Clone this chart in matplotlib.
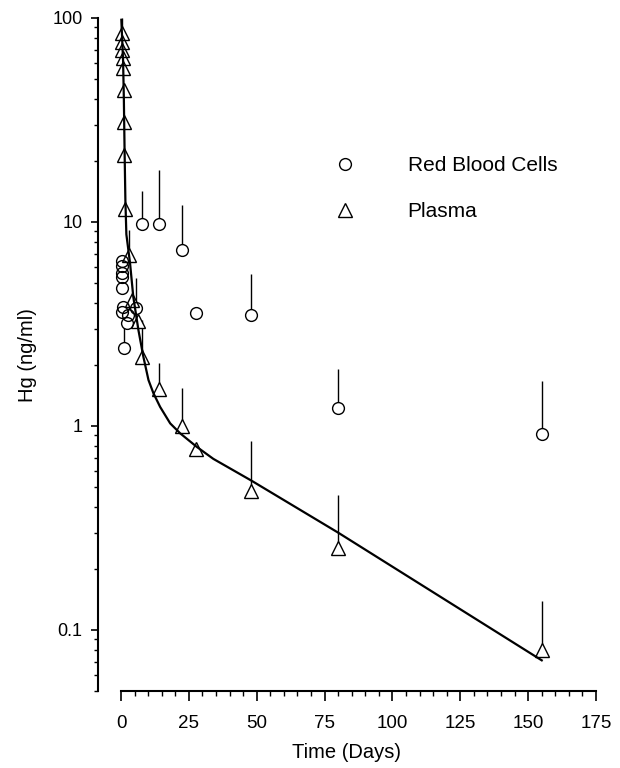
import matplotlib
matplotlib.use("Agg")
import matplotlib.pyplot as plt
from matplotlib.ticker import FixedLocator, LogLocator, NullFormatter

plt.rcParams['font.family'] = ['Liberation Sans', 'DejaVu Sans']

# ---------------- data ----------------
rbc_t = [0.5, 0.5, 0.5, 0.5, 0.5, 0.7, 0.25, 2.7, 2.1, 1.2, 5.4, 7.6, 14.0, 22.6, 27.6, 48.0, 80.0, 155.0]
rbc_v = [6.44, 6.08, 5.65, 5.37, 4.74, 3.83, 3.62, 3.5, 3.2, 2.41, 3.79, 9.78, 9.78, 7.29, 3.58, 3.5, 1.22, 0.91]

rbc_err_t = [1.2, 5.4, 7.6, 14.0, 22.6, 48.0, 80.0, 155.0]
rbc_err_lo = [2.41, 3.79, 9.78, 9.78, 7.29, 3.5, 1.22, 0.91]
rbc_err_hi = [3.05, 5.3, 14.2, 18.0, 12.1, 5.56, 1.9, 1.67]

pl_t = [0.3, 0.4, 0.5, 0.65, 0.75, 0.95, 1.1, 1.2, 1.5, 3.1, 3.9, 6.3, 7.6, 14.1, 22.4, 27.5, 48.0, 80.0, 155.0]
pl_v = [84.4, 76.3, 69.7, 63.6, 56.9, 44.4, 30.9, 21.3, 11.6, 6.88, 4.15, 3.27, 2.19, 1.51, 1.0, 0.77, 0.48, 0.252, 0.080]

pl_err_t = [0.3, 3.1, 7.6, 14.1, 22.4, 48.0, 80.0, 155.0]
pl_err_lo = [84.4, 6.88, 2.19, 1.51, 1.0, 0.48, 0.252, 0.080]
pl_err_hi = [100.0, 9.1, 3.3, 2.04, 1.53, 0.84, 0.46, 0.139]

fit_t = [0.1, 0.74, 1.03, 1.29, 1.59, 1.95, 3.3, 4.5, 6.4, 8.2, 10.1, 11.9, 14.4, 18.1, 21.8, 27.9, 34.0, 48.0, 80.0, 155.0]
fit_v = [98, 62, 40, 22.6, 12.8, 8.7, 6.3, 4.3, 2.95, 2.19, 1.68, 1.45, 1.24, 1.03, 0.92, 0.79, 0.69, 0.54, 0.30, 0.071]

x_ticks = [0, 25, 50, 75, 100, 125, 150, 175]
x_minor = [m for m in range(0, 176, 5) if m % 25]
y_ticks = [0.1, 1, 10, 100]
y_tick_labels = ["0.1", "1", "10", "100"]
labels = ["Red Blood Cells", "Plasma"]

# ---------------- figure ----------------
W, H = 620, 768
fig = plt.figure(figsize=(W / 100, H / 100), dpi=100)
left, right, top, bottom = 98, 596, 18, 691.4
ax = fig.add_axes([left / W, 1 - bottom / H, (right - left) / W, (bottom - top) / H])

ax.set_yscale('log')
ax.set_xlim(-8.5, 175)
ax.set_ylim(0.05, 100)

# error bars (upper only)
ax.vlines(rbc_err_t, rbc_err_lo, rbc_err_hi, colors='black', lw=1.0, zorder=2)
ax.vlines(pl_err_t, pl_err_lo, pl_err_hi, colors='black', lw=1.0, zorder=2)

# white fill under markers, hollow outlines on top
ax.plot(rbc_t, rbc_v, 'o', ms=8.5, mfc='white', mec='none', zorder=3)
ax.plot(pl_t, pl_v, '^', ms=9.5, mfc='white', mec='none', zorder=3)
h1, = ax.plot(rbc_t, rbc_v, 'o', ms=8.5, mfc='none', mec='black', mew=1.0, zorder=4)
h2, = ax.plot(pl_t, pl_v, '^', ms=9.5, mfc='none', mec='black', mew=1.0, zorder=4)

ax.plot(fit_t, fit_v, '-', color='black', lw=1.6, zorder=5)

# spines
for s in ['top', 'right']:
    ax.spines[s].set_visible(False)
ax.spines['left'].set_linewidth(1.5)
ax.spines['bottom'].set_linewidth(1.5)
ax.spines['bottom'].set_bounds(0, 175)

ax.set_xticks(x_ticks)
ax.set_xticklabels([str(v) for v in x_ticks])
ax.xaxis.set_minor_locator(FixedLocator(x_minor))
ax.set_yticks(y_ticks)
ax.set_yticklabels(y_tick_labels)
ax.yaxis.set_minor_locator(LogLocator(base=10, subs=range(2, 10)))
ax.yaxis.set_minor_formatter(NullFormatter())

ax.tick_params(axis='x', which='major', direction='out', length=7, width=1.2, pad=10, labelsize=13.5)
ax.tick_params(axis='x', which='minor', direction='out', length=3.5, width=1.0)
ax.tick_params(axis='y', which='major', direction='out', length=5, width=1.2, pad=6, labelsize=13)
ax.tick_params(axis='y', which='minor', direction='out', length=3, width=1.0)

ax.set_xlabel("Time (Days)", fontsize=14.5, labelpad=8)
ax.set_ylabel("Hg (ng/ml)", fontsize=14.5, labelpad=11)

leg = ax.legend([h1, h2], labels, loc='center left',
                bbox_to_anchor=((334.6 - left) / (right - left), (bottom - 188.5) / (bottom - top)),
                frameon=False, fontsize=15, handlelength=1.0, handletextpad=2.5,
                labelspacing=1.3, borderpad=0, borderaxespad=0, numpoints=1)

fig.savefig("out.png", dpi=100)
